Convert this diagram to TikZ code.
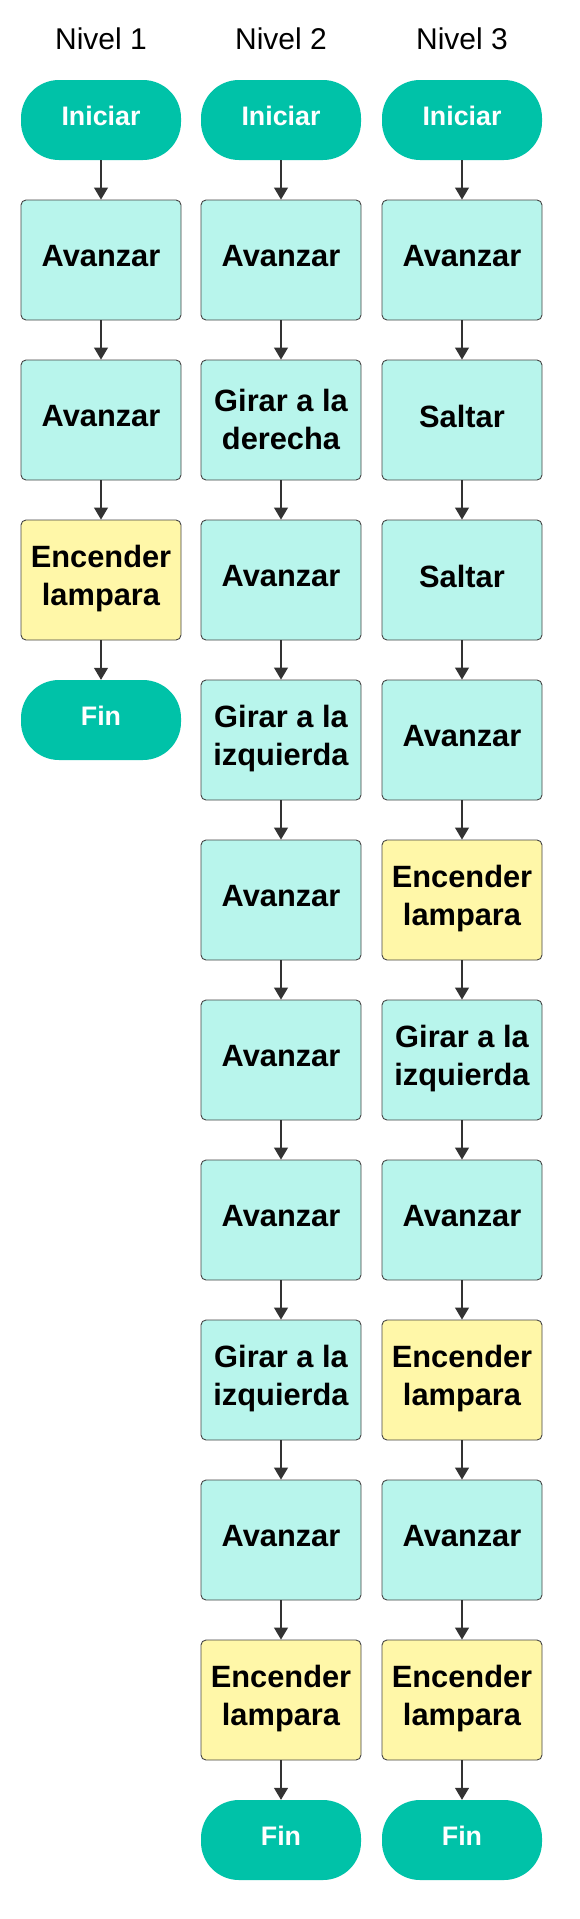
\documentclass[tikz,border=0pt]{standalone}
\usepackage{fontspec}
\setmainfont{Liberation Sans}
\usetikzlibrary{arrows.meta}
\definecolor{term}{HTML}{00C2A8}
\definecolor{act}{HTML}{B8F5EC}
\definecolor{lamp}{HTML}{FFF7A8}
\definecolor{edge}{HTML}{444444}
\definecolor{arr}{HTML}{333333}
\tikzset{
  terminal/.style={fill=term, draw=none, rounded corners=38pt, minimum width=160pt, minimum height=80pt, inner sep=0pt},
  termtext/.style={yshift=4pt, inner sep=0pt, text=white, font=\fontsize{26.8}{31}\selectfont\bfseries},
  actbox/.style={fill=act, draw=edge, line width=0.9pt, rounded corners=5pt, minimum width=160pt, minimum height=120pt, inner sep=0pt},
  lampbox/.style={actbox, fill=lamp},
  textbase/.style={inner sep=0pt, align=center, font=\fontsize{30.8}{38}\selectfont\bfseries},
  boxtext/.style={textbase, yshift=4pt},
  boxtwo/.style={textbase, yshift=1pt},
  title/.style={font=\fontsize{30}{36}\selectfont},
  flow/.style={draw=arr, line width=1.2pt, -{Triangle[width=14pt,length=12pt]}}
}
\begin{document}
\begin{tikzpicture}[x=1pt,y=-1pt]
\useasboundingbox (0,0) rectangle (579,1919);
% titles
\node[title] (t1) at (101,39) {Nivel 1};
\node[title] (t2) at (281,39) {Nivel 2};
\node[title] (t3) at (462,39) {Nivel 3};
% column 1
\node[terminal, label={[termtext]center:Iniciar}] (a0) at (101,120) {};
\node[actbox, label={[boxtext]center:Avanzar}] (a1) at (101,260) {};
\node[actbox, label={[boxtext]center:Avanzar}] (a2) at (101,420) {};
\node[lampbox, label={[boxtwo]center:{Encender\\lampara}}] (a3) at (101,580) {};
\node[terminal, label={[termtext]center:Fin}] (a4) at (101,720) {};
\foreach \i/\j in {0/1,1/2,2/3,3/4} \draw[flow] (a\i) -- (a\j);
% column 2
\node[terminal, label={[termtext]center:Iniciar}] (b0) at (281,120) {};
\node[actbox, label={[boxtext]center:Avanzar}] (b1) at (281,260) {};
\node[actbox, label={[boxtwo]center:{Girar a la\\derecha}}] (b2) at (281,420) {};
\node[actbox, label={[boxtext]center:Avanzar}] (b3) at (281,580) {};
\node[actbox, label={[boxtwo]center:{Girar a la\\izquierda}}] (b4) at (281,740) {};
\node[actbox, label={[boxtext]center:Avanzar}] (b5) at (281,900) {};
\node[actbox, label={[boxtext]center:Avanzar}] (b6) at (281,1060) {};
\node[actbox, label={[boxtext]center:Avanzar}] (b7) at (281,1220) {};
\node[actbox, label={[boxtwo]center:{Girar a la\\izquierda}}] (b8) at (281,1380) {};
\node[actbox, label={[boxtext]center:Avanzar}] (b9) at (281,1540) {};
\node[lampbox, label={[boxtwo]center:{Encender\\lampara}}] (b10) at (281,1700) {};
\node[terminal, label={[termtext]center:Fin}] (b11) at (281,1840) {};
\foreach \i/\j in {0/1,1/2,2/3,3/4,4/5,5/6,6/7,7/8,8/9,9/10,10/11} \draw[flow] (b\i) -- (b\j);
% column 3
\node[terminal, label={[termtext]center:Iniciar}] (c0) at (462,120) {};
\node[actbox, label={[boxtext]center:Avanzar}] (c1) at (462,260) {};
\node[actbox, label={[boxtext]center:Saltar}] (c2) at (462,420) {};
\node[actbox, label={[boxtext]center:Saltar}] (c3) at (462,580) {};
\node[actbox, label={[boxtext]center:Avanzar}] (c4) at (462,740) {};
\node[lampbox, label={[boxtwo]center:{Encender\\lampara}}] (c5) at (462,900) {};
\node[actbox, label={[boxtwo]center:{Girar a la\\izquierda}}] (c6) at (462,1060) {};
\node[actbox, label={[boxtext]center:Avanzar}] (c7) at (462,1220) {};
\node[lampbox, label={[boxtwo]center:{Encender\\lampara}}] (c8) at (462,1380) {};
\node[actbox, label={[boxtext]center:Avanzar}] (c9) at (462,1540) {};
\node[lampbox, label={[boxtwo]center:{Encender\\lampara}}] (c10) at (462,1700) {};
\node[terminal, label={[termtext]center:Fin}] (c11) at (462,1840) {};
\foreach \i/\j in {0/1,1/2,2/3,3/4,4/5,5/6,6/7,7/8,8/9,9/10,10/11} \draw[flow] (c\i) -- (c\j);
\end{tikzpicture}
\end{document}
